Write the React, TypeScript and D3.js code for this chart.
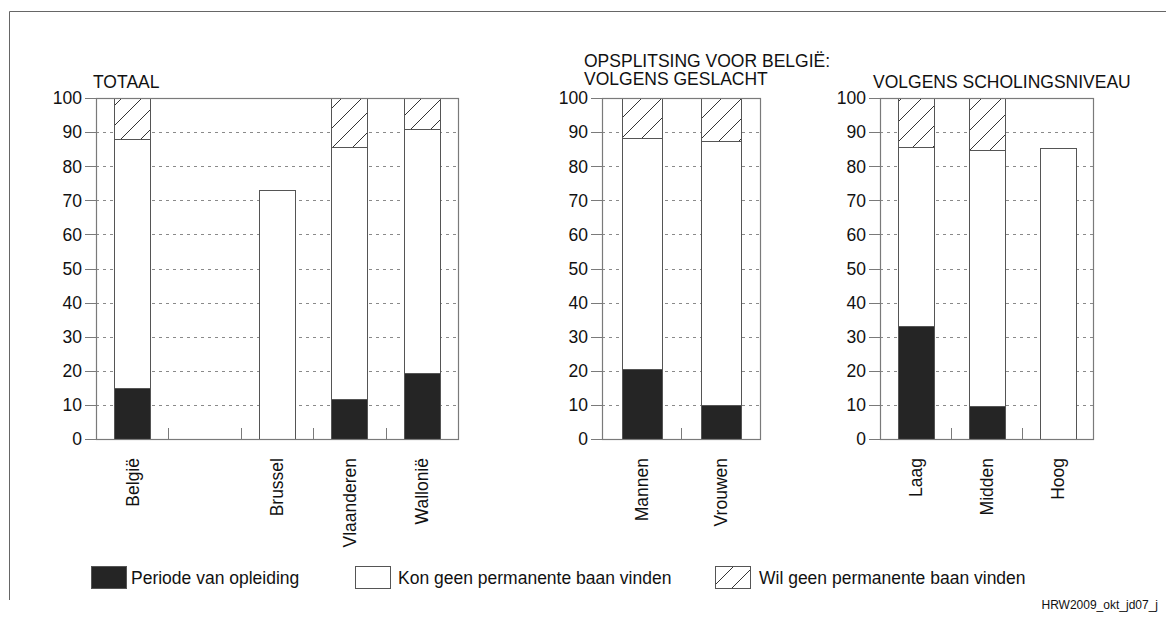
import React from "react";
import * as d3 from "d3";

// ---------- data ----------
const seriesNames = [
  "Periode van opleiding",
  "Kon geen permanente baan vinden",
  "Wil geen permanente baan vinden",
];

const totaalCategories = ["België", "", "Brussel", "Vlaanderen", "Wallonië"];
const totaalPeriode = [15, 0, 0, 11.6, 19.5];
const totaalKon = [72.9, 0, 73, 74, 71.5];
const totaalWil = [12.1, 0, 0, 14.4, 9];

const geslachtCategories = ["Mannen", "Vrouwen"];
const geslachtPeriode = [20.6, 10];
const geslachtKon = [67.7, 77.3];
const geslachtWil = [11.7, 12.7];

const scholingCategories = ["Laag", "Midden", "Hoog"];
const scholingPeriode = [33.2, 9.7, 0];
const scholingKon = [52.3, 75, 85.2];
const scholingWil = [14.5, 15.3, 0];

const yTicks = [0, 10, 20, 30, 40, 50, 60, 70, 80, 90, 100];
const gridTicks = [10, 20, 30, 40, 50, 60, 70, 80, 90];

const titleTotaal = ["TOTAAL"];
const titleGeslacht = ["OPSPLITSING VOOR BELGIË:", "VOLGENS GESLACHT"];
const titleScholing = ["VOLGENS SCHOLINGSNIVEAU"];
const sourceNote = "HRW2009_okt_jd07_j";

// ---------- layout ----------
const W = 1166;
const H = 619;
const FONT = "'Liberation Sans', Arial, Helvetica, sans-serif";
const FS = 17.5;
const Y0 = 439;
const Y100 = 98;
const BLACK = "#252525";
const FRAME = "#7a7a7a";
const BAR_STROKE = "#555";
const GRID = "#8a8a8a";
const TEXT = "#111";

type PanelDef = {
  cats: string[];
  p: number[];
  k: number[];
  w: number[];
  x0: number;
  x1: number;
  title: string[];
  titleX: number;
  titleY: number;
};

const panels: PanelDef[] = [
  { cats: totaalCategories, p: totaalPeriode, k: totaalKon, w: totaalWil, x0: 96, x1: 458, title: titleTotaal, titleX: 93, titleY: 88 },
  { cats: geslachtCategories, p: geslachtPeriode, k: geslachtKon, w: geslachtWil, x0: 602, x1: 760, title: titleGeslacht, titleX: 584, titleY: 67 },
  { cats: scholingCategories, p: scholingPeriode, k: scholingKon, w: scholingWil, x0: 880, x1: 1093, title: titleScholing, titleX: 873, titleY: 88 },
];

const fills = [BLACK, "#ffffff", "url(#hatch)"];

function Panel({ def }: { def: PanelDef }) {
  const y = d3.scaleLinear().domain([0, 100]).range([Y0, Y100]);
  const x = d3
    .scaleBand<string>()
    .domain(def.cats)
    .range([def.x0, def.x1])
    .paddingInner(0.5)
    .paddingOuter(0.25);
  const step = x.step();
  const rows = def.cats.map((c, i) => ({ cat: c, p: def.p[i], k: def.k[i], w: def.w[i] }));
  const stacked = d3.stack<any>().keys(["p", "k", "w"])(rows);
  const n = def.cats.length;
  const seps = d3.range(1, n).map((i) => def.x0 + i * step);

  return (
    <g>
      {def.title.map((t, i) => (
        <text key={i} x={def.titleX} y={def.titleY + i * 18} fontSize={FS} fill={TEXT}>
          {t}
        </text>
      ))}
      {gridTicks.map((t) => (
        <line
          key={t}
          x1={def.x0}
          x2={def.x1}
          y1={Math.round(y(t)) + 0.5}
          y2={Math.round(y(t)) + 0.5}
          stroke={GRID}
          strokeWidth={1}
          strokeDasharray="3,4"
        />
      ))}
      {stacked.map((layer, li) =>
        layer.map((d, di) => {
          const h = y(d[0]) - y(d[1]);
          if (h <= 0.01) return null;
          const cat = def.cats[di];
          const bx = x(cat)!;
          return (
            <rect
              key={`${li}-${di}`}
              x={Math.round(bx) + 0.5}
              y={Math.round(y(d[1])) + 0.5}
              width={Math.round(x.bandwidth())}
              height={Math.round(y(d[0])) - Math.round(y(d[1]))}
              fill={fills[li]}
              stroke={BAR_STROKE}
              strokeWidth={1}
            />
          );
        })
      )}
      <rect
        x={def.x0 + 0.5}
        y={Math.round(y(100)) + 0.5}
        width={def.x1 - def.x0}
        height={Math.round(y(0)) - Math.round(y(100))}
        fill="none"
        stroke={FRAME}
        strokeWidth={1.2}
      />
      {seps.map((sx, i) => (
        <line
          key={i}
          x1={Math.round(sx) + 0.5}
          x2={Math.round(sx) + 0.5}
          y1={Math.round(y(0))}
          y2={Math.round(y(0)) - 11}
          stroke={FRAME}
          strokeWidth={1}
        />
      ))}
      {yTicks.map((t) => (
        <g key={t}>
          <line
            x1={def.x0 - 11}
            x2={def.x0}
            y1={Math.round(y(t)) + 0.5}
            y2={Math.round(y(t)) + 0.5}
            stroke={FRAME}
            strokeWidth={1}
          />
          <text
            x={def.x0 - 14}
            y={y(t)}
            dy="0.36em"
            textAnchor="end"
            fontSize={FS}
            fill={TEXT}
          >
            {t}
          </text>
        </g>
      ))}
      {def.cats.map((c) =>
        c === "" ? null : (
          <text
            key={c}
            transform={`translate(${x(c)! + x.bandwidth() / 2},${Y0 + 19}) rotate(-90)`}
            dy="0.36em"
            textAnchor="end"
            fontSize={FS}
            fill={TEXT}
          >
            {c}
          </text>
        )
      )}
    </g>
  );
}

const legendX = [91, 355, 715];
const legendTextX = [131, 398, 759];

export default function App() {
  const ly = 566;
  return (
    <svg
      width={W}
      height={H}
      viewBox={`0 0 ${W} ${H}`}
      style={{ position: "absolute", left: 0, top: 0, display: "block", background: "#fff" }}
      fontFamily={FONT}
    >
      <defs>
        <pattern id="hatch" patternUnits="userSpaceOnUse" width={20} height={20}>
          <rect width={20} height={20} fill="#fff" />
          <path d="M0,20 L20,0 M-5,5 L5,-5 M15,25 L25,15" stroke="#333" strokeWidth={1} />
        </pattern>
      </defs>
      <rect width={W} height={H} fill="#fff" />
      <line x1={9.5} x2={W} y1={11.5} y2={11.5} stroke="#666" strokeWidth={1} />
      <line x1={9.5} x2={9.5} y1={11.5} y2={600} stroke="#666" strokeWidth={1} />

      {panels.map((p, i) => (
        <Panel key={i} def={p} />
      ))}

      {seriesNames.map((s, i) => (
        <g key={s}>
          <rect
            x={legendX[i] + 0.5}
            y={ly + 0.5}
            width={35}
            height={22}
            fill={fills[i]}
            stroke={BAR_STROKE}
            strokeWidth={1}
          />
          <text x={legendTextX[i]} y={ly + 18} fontSize={FS} fill={TEXT}>
            {s}
          </text>
        </g>
      ))}

      <text x={1158} y={609} textAnchor="end" fontSize={12} fill={TEXT}>
        {sourceNote}
      </text>
    </svg>
  );
}
